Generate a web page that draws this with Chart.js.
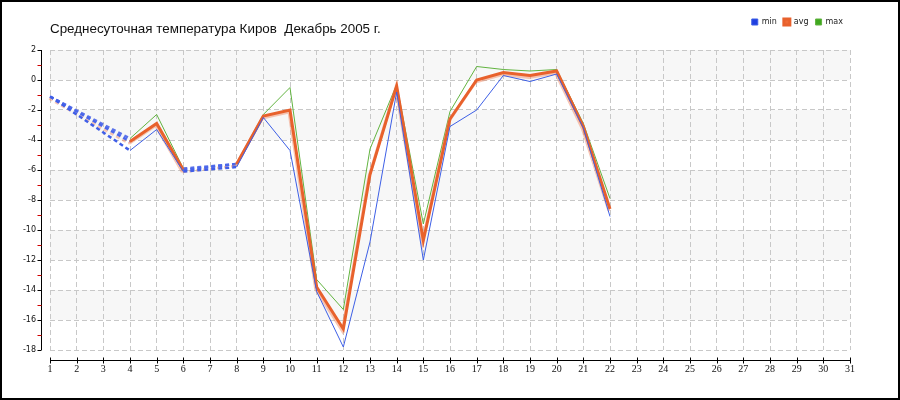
<!DOCTYPE html>
<html>
<head>
<meta charset="utf-8">
<script src="https://cdn.jsdelivr.net/npm/chart.js@4.4.1/dist/chart.umd.min.js"></script>
<style>
    body { margin: 0; background: #fff; }
    #wrap { position: relative; width: 900px; height: 400px; border: 2px solid #000; box-sizing: border-box; }
    #title { position: absolute; left: 48px; top: 19px; font: 13.4px "Liberation Sans", Arial, sans-serif; color: #111; white-space: pre; }
    canvas { display: block; }
</style>
</head>
<body>
<div id="wrap">
    <canvas id="tempChart" width="896" height="396"></canvas>
    <div id="title">Среднесуточная температура Киров  Декабрь 2005 г.</div>
</div>
<script>
const days = [];
for (let d = 1; d <= 31; d++) days.push(String(d));

const yTicks = [2, 0, -2, -4, -6, -8, -10, -12, -14, -16, -18];

const minTemp = [-1.1, null, null, -4.7, -3.3, -6.1, null, -5.8, -2.5, -4.7, -14.1, -17.8, -10.8, -0.8, -12.0, -3.1, -2.0, 0.3, -0.1, 0.4, -3.2, -9.1];
const avgTemp = [-1.1, null, null, -4.1, -2.9, -6.0, null, -5.6, -2.4, -2.0, -13.8, -16.6, -6.3, -0.4, -10.7, -2.6, 0.0, 0.5, 0.3, 0.6, -3.1, -8.6];
const maxTemp = [-1.1, null, null, -3.9, -2.3, -5.9, null, -5.6, -2.3, -0.5, -13.3, -15.3, -4.6, -0.3, -9.6, -2.1, 0.9, 0.7, 0.6, 0.7, -2.9, -7.9];

// missing days are joined with a dashed blue line
const gap = (ctx, value) => (ctx.p0.skip || ctx.p1.skip) ? value : undefined;

function series(label, data, color, legendColor, width, dashColor) {
    return {
        label: label,
        data: data,
        borderColor: color,
        backgroundColor: legendColor,
        borderWidth: width,
        pointRadius: 0,
        tension: 0,
        spanGaps: true,
        segment: {
            borderColor: ctx => gap(ctx, dashColor),
            borderDash: ctx => gap(ctx, [4, 3]),
            borderWidth: ctx => gap(ctx, 2.5)
        }
    };
}

const chartDecor = {
    id: 'chartDecor',
    beforeDraw(chart) {
        const { ctx, chartArea: a, scales: { y } } = chart;
        ctx.save();
        ctx.fillStyle = '#f7f7f7';
        for (let i = 0; i < yTicks.length - 1; i += 2) {
            const t = y.getPixelForValue(yTicks[i]);
            const b = y.getPixelForValue(yTicks[i + 1]);
            ctx.fillRect(a.left, t, a.right - a.left, b - t);
        }
        ctx.restore();
    },
    beforeDatasetDraw(chart, args) {
        const ctx = chart.ctx;
        ctx.save();
        if (args.index === 1) {
            ctx.shadowColor = 'rgba(240, 130, 90, 0.45)';
            ctx.shadowOffsetX = -1;
            ctx.shadowOffsetY = 2;
        }
    },
    afterDatasetDraw(chart) {
        chart.ctx.restore();
    },
    afterDraw(chart) {
        const { ctx, chartArea: a, scales: { x, y } } = chart;
        const axX = a.left - 8.5;
        const axY = a.bottom + 10.5;
        ctx.save();
        ctx.lineWidth = 1;
        ctx.strokeStyle = '#000';
        ctx.beginPath();
        ctx.moveTo(axX, y.getPixelForValue(yTicks[0]));
        ctx.lineTo(axX, y.getPixelForValue(yTicks[yTicks.length - 1]));
        yTicks.forEach(v => {
            const py = Math.round(y.getPixelForValue(v)) + 0.5;
            ctx.moveTo(axX - 4, py);
            ctx.lineTo(axX, py);
        });
        ctx.moveTo(x.getPixelForValue(0), axY);
        ctx.lineTo(x.getPixelForValue(days.length - 1), axY);
        days.forEach((d, i) => {
            const px = Math.round(x.getPixelForValue(i)) + 0.5;
            ctx.moveTo(px, axY - 3);
            ctx.lineTo(px, axY + 3);
        });
        ctx.stroke();
        ctx.strokeStyle = '#d00000';
        ctx.beginPath();
        for (let i = 0; i < yTicks.length - 1; i++) {
            const py = Math.round(y.getPixelForValue((yTicks[i] + yTicks[i + 1]) / 2)) + 0.5;
            ctx.moveTo(axX - 4, py);
            ctx.lineTo(axX, py);
        }
        ctx.stroke();
        ctx.restore();
    }
};

const ctx = document.getElementById('tempChart').getContext('2d');
const tempChart = new Chart(ctx, {
    type: 'line',
    data: {
        labels: days,
        datasets: [
            series('min', minTemp, '#3d5fe6', '#1f3fe0', 1, '#3f5ee8'),
            series('avg', avgTemp, '#e8612c', '#ef6a35', 3, '#4a66ea'),
            series('max', maxTemp, '#62b440', '#3fa81f', 1, '#5a72ea')
        ]
    },
    options: {
        responsive: false,
        animation: false,
        layout: { padding: { left: 0, right: 48, top: 9, bottom: 0 } },
        plugins: {
            title: { display: false },
            // empty subtitle only keeps the gap between legend and plot
            subtitle: {
                display: true,
                text: '',
                weight: 500,
                font: { size: 10 },
                padding: { top: 0, bottom: 2 }
            },
            tooltip: { enabled: false },
            legend: {
                position: 'top',
                align: 'end',
                labels: {
                    boxWidth: 6,
                    boxHeight: 6,
                    padding: 7,
                    color: '#222',
                    font: { family: 'DejaVu Sans', size: 8 }
                }
            }
        },
        scales: {
            x: {
                afterFit: scale => { scale.height = 48; },
                grid: { color: '#c8c8c8', drawTicks: false },
                border: { display: false, dash: [5, 3] },
                ticks: {
                    padding: 13,
                    maxRotation: 0,
                    autoSkip: false,
                    color: '#111',
                    font: { family: 'Liberation Sans Narrow', size: 10 }
                }
            },
            y: {
                min: -18,
                max: 2,
                afterFit: scale => { scale.width = 48; },
                afterBuildTicks: scale => { scale.ticks = yTicks.map(v => ({ value: v })); },
                grid: { color: '#c8c8c8', drawTicks: false },
                border: { display: false, dash: [5, 3] },
                ticks: {
                    padding: 14,
                    color: '#111',
                    font: { family: 'DejaVu Sans', size: 8 }
                }
            }
        }
    },
    plugins: [chartDecor]
});
</script>
</body>
</html>
